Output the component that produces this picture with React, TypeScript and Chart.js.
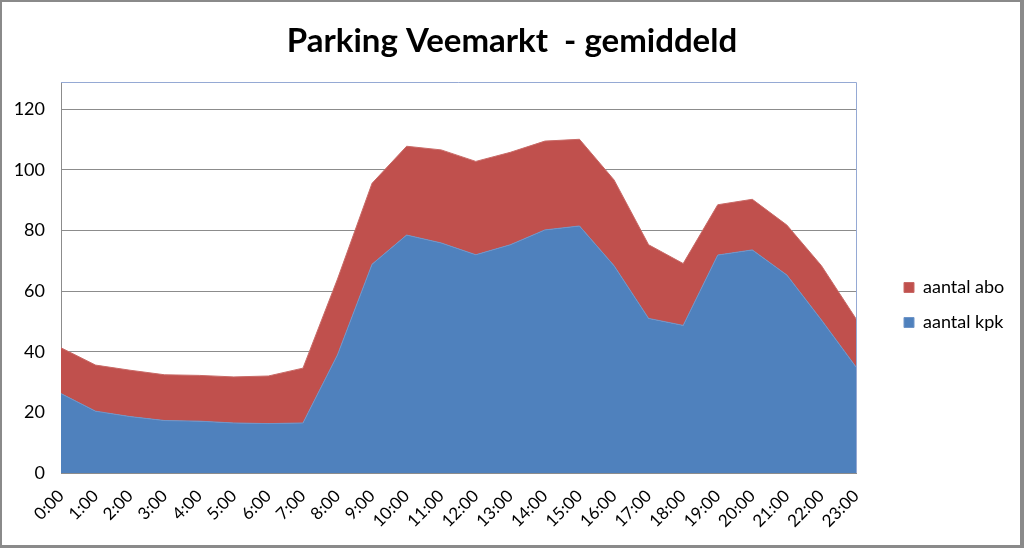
import React, { useEffect, useRef } from "react";
import { Chart, registerables } from "chart.js";

Chart.register(...registerables);

const hours = [
  "0:00", "1:00", "2:00", "3:00", "4:00", "5:00", "6:00", "7:00", "8:00", "9:00", "10:00", "11:00",
  "12:00", "13:00", "14:00", "15:00", "16:00", "17:00", "18:00", "19:00", "20:00", "21:00", "22:00", "23:00",
];

const aantalKpk = [
  26.2, 20.4, 18.6, 17.3, 17.1, 16.5, 16.3, 16.5, 39.0, 68.9, 78.5, 75.9,
  72.0, 75.3, 80.2, 81.5, 68.4, 51.0, 48.7, 71.9, 73.6, 65.3, 50.5, 35.0,
];

const aantalAbo = [
  15.1, 15.2, 15.3, 15.1, 15.1, 15.2, 15.7, 18.1, 25.0, 26.7, 29.3, 30.7,
  30.8, 30.5, 29.3, 28.6, 28.3, 24.3, 20.4, 16.6, 16.7, 16.5, 17.9, 15.9,
];

const yTicks = [0, 20, 40, 60, 80, 100, 120];

const FONT = "Lato, 'Open Sans', sans-serif";
const LEGEND_W = 168;
const LEGEND_BOX_X = 904;
const LEGEND_DY = 31;

const framePlugin = {
  id: "frame",
  beforeDraw(chart: any) {
    const ctx = chart.ctx;
    ctx.save();
    ctx.fillStyle = "#ffffff";
    ctx.fillRect(0, 0, chart.width, chart.height);
    ctx.fillStyle = "#8a8a8a";
    ctx.fillRect(0, 0, chart.width, 2);
    ctx.fillRect(0, 0, 2, chart.height);
    ctx.fillRect(chart.width - 4, 0, 4, chart.height);
    ctx.fillRect(0, chart.height - 3, chart.width, 3);
    ctx.restore();
  },
  afterDatasetsDraw(chart: any) {
    const { ctx, chartArea } = chart;
    ctx.save();
    ctx.strokeStyle = "#95a9d4";
    ctx.lineWidth = 1;
    ctx.beginPath();
    ctx.moveTo(chartArea.left, Math.round(chartArea.top) + 0.5);
    ctx.lineTo(Math.round(chartArea.right) + 0.5, Math.round(chartArea.top) + 0.5);
    ctx.lineTo(Math.round(chartArea.right) + 0.5, chartArea.bottom);
    ctx.stroke();
    ctx.restore();
  },
};

const legendPlacer = {
  id: "legendPlacer",
  beforeLayout(chart: any) {
    const l = chart.legend;
    if (l && !l.__wrapped) {
      const orig = l.fit;
      l.fit = function () {
        orig.call(this);
        this.width = LEGEND_W;
      };
      l.__wrapped = true;
    }
  },
  afterLayout(chart: any) {
    const l = chart.legend;
    if (!l) return;
    const pad = l.options.labels.padding;
    const w = l.right - l.left;
    l.left = LEGEND_BOX_X - pad;
    l.right = l.left + w;
    l.top += LEGEND_DY;
    l.bottom += LEGEND_DY;
  },
};

export default function App() {
  const ref = useRef<HTMLCanvasElement>(null);

  useEffect(() => {
    document.body.style.margin = "0";
    const canvas = ref.current;
    if (!canvas) return;
    const chart = new Chart(canvas, {
      type: "line",
      data: {
        labels: hours,
        datasets: [
          {
            label: "aantal kpk",
            data: aantalKpk,
            backgroundColor: "#4f81bd",
            borderColor: "#6f95c8",
            borderWidth: 1,
            pointRadius: 0,
            fill: "origin",
            tension: 0,
          },
          {
            label: "aantal abo",
            data: aantalAbo,
            backgroundColor: "#c0504d",
            borderColor: "#c86a67",
            borderWidth: 1,
            pointRadius: 0,
            fill: "-1",
            tension: 0,
          },
        ],
      },
      options: {
        responsive: false,
        animation: false,
        maintainAspectRatio: false,
        layout: { padding: 0 },
        plugins: {
          title: {
            display: true,
            text: "Parking Veemarkt  - gemiddeld",
            color: "#000000",
            font: { family: FONT, size: 33, weight: "bold" },
            padding: { top: 22, bottom: 20.4 },
          },
          legend: {
            position: "right",
            reverse: true,
            labels: {
              boxWidth: 10,
              boxHeight: 10,
              padding: 17,
              color: "#000000",
              font: { family: FONT, size: 18 },
            },
          },
          tooltip: { enabled: false },
        },
        scales: {
          x: {
            offset: false,
            grid: { display: false, drawTicks: false },
            border: { display: true, color: "#8c8c8c" },
            ticks: {
              autoSkip: false,
              minRotation: 45,
              maxRotation: 45,
              padding: 13,
              color: "#000000",
              font: { family: FONT, size: 17 },
            },
            afterFit: (s: any) => {
              s.height = 75;
            },
          },
          y: {
            stacked: true,
            min: 0,
            max: 129,
            grid: { color: "#8c8c8c", drawTicks: false },
            border: { display: true, color: "#8c8c8c" },
            ticks: {
              stepSize: 20,
              padding: 16,
              color: "#000000",
              font: { family: FONT, size: 18 },
            },
            afterBuildTicks: (s: any) => {
              s.ticks = yTicks.map((v) => ({ value: v }));
            },
            afterFit: (s: any) => {
              s.width = 61;
            },
          },
        },
      },
      plugins: [framePlugin, legendPlacer],
    });
    return () => chart.destroy();
  }, []);

  return (
    <div style={{ position: "absolute", left: 0, top: 0, width: 1024, height: 548 }}>
      <canvas ref={ref} width={1024} height={548} style={{ display: "block" }} />
    </div>
  );
}
